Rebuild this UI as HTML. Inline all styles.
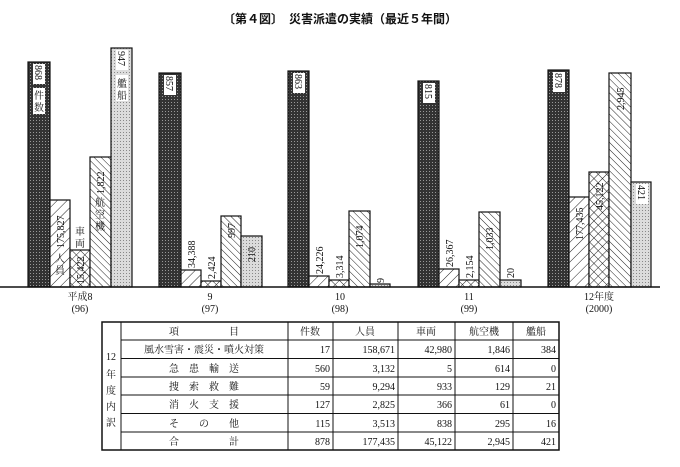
<!DOCTYPE html>
<html><head><meta charset="utf-8"><style>
body{margin:0;background:#fff}
svg{display:block}
text{font-family:"Liberation Serif","Noto Serif CJK SC","Noto Sans CJK JP",serif;fill:#111}
.ttl{font-family:"Liberation Sans","Noto Sans CJK JP",sans-serif;font-weight:bold}
</style></head><body>
<svg width="680" height="467" viewBox="0 0 680 467" xmlns="http://www.w3.org/2000/svg">
<defs>
<pattern id="dk" width="3" height="3" patternUnits="userSpaceOnUse"><rect width="3" height="3" fill="#333"/><rect width="1" height="1" fill="#999"/></pattern>
<pattern id="lt" width="3" height="3" patternUnits="userSpaceOnUse"><rect width="3" height="3" fill="#dcdcdc"/><rect width="1" height="1" fill="#888"/></pattern>
<pattern id="fw" width="7" height="7" patternUnits="userSpaceOnUse" patternTransform="rotate(45)"><rect width="7" height="7" fill="#fff"/><line x1="0" y1="0" x2="0" y2="7" stroke="#222" stroke-width="1"/></pattern>
<pattern id="bk" width="5" height="5" patternUnits="userSpaceOnUse" patternTransform="rotate(-45)"><rect width="5" height="5" fill="#fff"/><line x1="0" y1="0" x2="0" y2="5" stroke="#222" stroke-width="1"/></pattern>
<pattern id="cx" width="6" height="6" patternUnits="userSpaceOnUse" patternTransform="rotate(45)"><rect width="6" height="6" fill="#fff"/><line x1="0" y1="0" x2="0" y2="6" stroke="#222"/><line x1="0" y1="0" x2="6" y2="0" stroke="#222"/></pattern>
</defs>
<text class="ttl" x="340" y="23" font-size="12" text-anchor="middle">〔第４図〕　災害派遣の実績（最近５年間）</text>
<g stroke="#111" stroke-width="1.2">
<rect x="28" y="62" width="22" height="225" fill="url(#dk)"/>
<rect x="50" y="200" width="20" height="87" fill="url(#fw)"/>
<rect x="70" y="250" width="20" height="37" fill="url(#cx)"/>
<rect x="90" y="157" width="21" height="130" fill="url(#bk)"/>
<rect x="111" y="48" width="21" height="239" fill="url(#lt)"/>
<rect x="159" y="73" width="22" height="214" fill="url(#dk)"/>
<rect x="181" y="270" width="20" height="17" fill="url(#fw)"/>
<rect x="201" y="281" width="20" height="6" fill="url(#cx)"/>
<rect x="221" y="216" width="20" height="71" fill="url(#bk)"/>
<rect x="241" y="236" width="21" height="51" fill="url(#lt)"/>
<rect x="288" y="71" width="21" height="216" fill="url(#dk)"/>
<rect x="309" y="276" width="20" height="11" fill="url(#fw)"/>
<rect x="329" y="280" width="20" height="7" fill="url(#cx)"/>
<rect x="349" y="211" width="21" height="76" fill="url(#bk)"/>
<rect x="370" y="284" width="20" height="3" fill="url(#lt)"/>
<rect x="418" y="81" width="21" height="206" fill="url(#dk)"/>
<rect x="439" y="269" width="20" height="18" fill="url(#fw)"/>
<rect x="459" y="280" width="20" height="7" fill="url(#cx)"/>
<rect x="479" y="212" width="21" height="75" fill="url(#bk)"/>
<rect x="500" y="280" width="21" height="7" fill="url(#lt)"/>
<rect x="548" y="70" width="21" height="217" fill="url(#dk)"/>
<rect x="569" y="197" width="20" height="90" fill="url(#fw)"/>
<rect x="589" y="172" width="20" height="115" fill="url(#cx)"/>
<rect x="609" y="73" width="22" height="214" fill="url(#bk)"/>
<rect x="631" y="182" width="20" height="105" fill="url(#lt)"/>
<line x1="0" y1="287" x2="660" y2="287" stroke-width="1.5"/>
</g>
<g font-size="10">
<g fill="#fff"><rect x="33" y="64" width="12" height="20"/><rect x="33" y="88" width="12" height="26"/><rect x="164" y="75" width="12" height="20"/><rect x="293" y="73" width="12" height="20"/><rect x="423" y="83" width="12" height="20"/><rect x="553" y="72" width="12" height="20"/>
<rect x="116" y="50" width="12" height="20"/><rect x="116" y="75" width="12" height="26"/><rect x="636" y="184" width="12" height="20"/></g>
<text transform="translate(35,65) rotate(90)">868</text>
<text x="39" y="99" text-anchor="middle">件</text><text x="39" y="111" text-anchor="middle">数</text>
<text transform="translate(166,76) rotate(90)">857</text>
<text transform="translate(295,74) rotate(90)">863</text>
<text transform="translate(425,84) rotate(90)">815</text>
<text transform="translate(555,73) rotate(90)">878</text>
<text transform="translate(118,51) rotate(90)">947</text>
<text x="122" y="87" text-anchor="middle">艦</text><text x="122" y="99" text-anchor="middle">船</text>
<text transform="translate(638,185) rotate(90)">421</text>
<text transform="translate(64,248) rotate(-90)">175,827</text>
<text x="60" y="262" text-anchor="middle">人</text><text x="60" y="274" text-anchor="middle">員</text>
<text x="80" y="235" text-anchor="middle">車</text><text x="80" y="247" text-anchor="middle">両</text>
<text transform="translate(84,284) rotate(-90)">15,422</text>
<text transform="translate(104,194) rotate(-90)">1,822</text>
<text x="100" y="206" text-anchor="middle">航</text><text x="100" y="218" text-anchor="middle">空</text><text x="100" y="230" text-anchor="middle">機</text>
<text transform="translate(195,268) rotate(-90)">34,388</text>
<text transform="translate(215,279) rotate(-90)">2,424</text>
<text transform="translate(235,238) rotate(-90)">997</text>
<text transform="translate(255,262) rotate(-90)">210</text>
<text transform="translate(323,274) rotate(-90)">24,226</text>
<text transform="translate(343,278) rotate(-90)">3,314</text>
<text transform="translate(363,248) rotate(-90)">1,074</text>
<text transform="translate(384,283) rotate(-90)">9</text>
<text transform="translate(453,267) rotate(-90)">26,367</text>
<text transform="translate(473,278) rotate(-90)">2,154</text>
<text transform="translate(493,250) rotate(-90)">1,033</text>
<text transform="translate(514,278) rotate(-90)">20</text>
<text transform="translate(583,240) rotate(-90)">177,435</text>
<text transform="translate(603,210) rotate(-90)">45,122</text>
<text transform="translate(624,110) rotate(-90)">2,945</text>
</g>
<g font-size="10" text-anchor="middle">
<text x="80" y="300">平成8</text><text x="80" y="312">(96)</text>
<text x="210" y="300">9</text><text x="210" y="312">(97)</text>
<text x="340" y="300">10</text><text x="340" y="312">(98)</text>
<text x="469" y="300">11</text><text x="469" y="312">(99)</text>
<text x="599" y="300">12年度</text><text x="599" y="312">(2000)</text>
</g>
<g stroke="#111" fill="none">
<rect x="102" y="322" width="457" height="128" stroke-width="1.5"/>
<line x1="121" y1="322" x2="121" y2="450"/>
<line x1="288" y1="322" x2="288" y2="450"/>
<line x1="333" y1="322" x2="333" y2="450"/>
<line x1="398" y1="322" x2="398" y2="450"/>
<line x1="455" y1="322" x2="455" y2="450"/>
<line x1="513" y1="322" x2="513" y2="450"/>
<line x1="121" y1="340" x2="559" y2="340"/>
<line x1="121" y1="358.5" x2="559" y2="358.5"/>
<line x1="121" y1="377" x2="559" y2="377"/>
<line x1="121" y1="395" x2="559" y2="395"/>
<line x1="121" y1="413.5" x2="559" y2="413.5"/>
<line x1="121" y1="432" x2="559" y2="432"/>
</g>
<g font-size="10">
<g text-anchor="middle">
<text x="111" y="360">12</text><text x="111" y="378">年</text><text x="111" y="394">度</text><text x="111" y="410">内</text><text x="111" y="426">訳</text>
<text x="204" y="335">項　　　　　目</text>
<text x="310" y="335">件数</text><text x="365" y="335">人員</text><text x="426" y="335">車両</text><text x="484" y="335">航空機</text><text x="536" y="335">艦船</text>
<text x="204" y="353">風水雪害・震災・噴火対策</text>
<text x="204" y="372">急　患　輸　送</text>
<text x="204" y="390">捜　索　救　難</text>
<text x="204" y="408">消　火　支　援</text>
<text x="204" y="427">そ　　の　　他</text>
<text x="204" y="445">合　　　　　計</text>
</g>
<g text-anchor="end">
<text x="330" y="353">17</text><text x="395" y="353">158,671</text><text x="452" y="353">42,980</text><text x="510" y="353">1,846</text><text x="556" y="353">384</text>
<text x="330" y="372">560</text><text x="395" y="372">3,132</text><text x="452" y="372">5</text><text x="510" y="372">614</text><text x="556" y="372">0</text>
<text x="330" y="390">59</text><text x="395" y="390">9,294</text><text x="452" y="390">933</text><text x="510" y="390">129</text><text x="556" y="390">21</text>
<text x="330" y="408">127</text><text x="395" y="408">2,825</text><text x="452" y="408">366</text><text x="510" y="408">61</text><text x="556" y="408">0</text>
<text x="330" y="427">115</text><text x="395" y="427">3,513</text><text x="452" y="427">838</text><text x="510" y="427">295</text><text x="556" y="427">16</text>
<text x="330" y="445">878</text><text x="395" y="445">177,435</text><text x="452" y="445">45,122</text><text x="510" y="445">2,945</text><text x="556" y="445">421</text>
</g>
</g>
</svg>
</body></html>
